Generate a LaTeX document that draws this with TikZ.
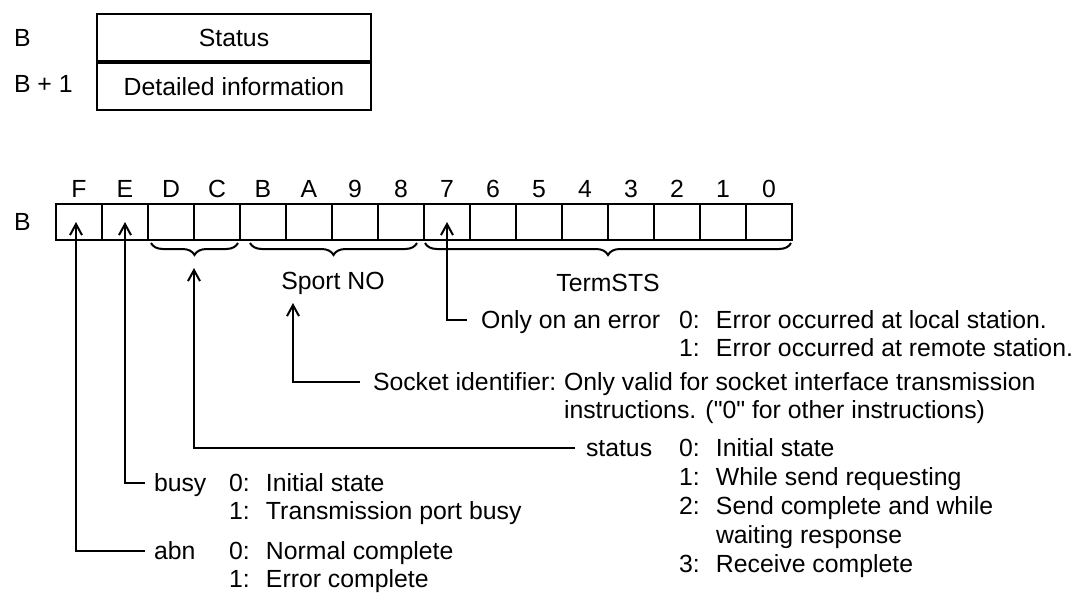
\documentclass[tikz,border=0pt]{standalone}
\usepackage{fontspec}
\setmainfont{Liberation Sans}[Ligatures=TeXOff]
\usetikzlibrary{arrows.meta,decorations.pathreplacing,positioning}
\newcommand{\itm}[2]{\makebox[18.5pt][l]{#1}#2}
\tikzset{
  txt/.style={inner sep=0pt,anchor=west,text height=8.9pt,text depth=0pt},
  cell/.style={draw,minimum width=23pt,minimum height=18pt,inner sep=0pt},
  rowbox/.style={draw,minimum width=137pt,minimum height=23.5pt,inner sep=0pt},
  arr/.style={-{Straight Barb[length=5.5pt,width=6pt]}},
  brc/.style={decorate,decoration={brace,mirror,amplitude=6pt}}
}
\begin{document}
\begin{tikzpicture}[x=0.5pt,y=-0.5pt,line width=1pt,font=\fontsize{12.4}{14.5}\selectfont]
\useasboundingbox (0,0) rectangle (1079,601);

\node[rowbox] (st) at (234,37.5) {Status};
\node[rowbox,below=0pt of st] (det) {Detailed information};
\node[txt] (lb) at (13,38) {B};
\node[txt] (lb1) at (13,84) {B + 1};

\foreach \b [count=\k from 0] in {F,E,D,C,B,A,9,8,7,6,5,4,3,2,1,0} {
  \node[cell] (c\b) at (79+46*\k,222) {};
  \node[txt,anchor=center] (n\b) at (79+46*\k,189) {\b};
}
\node[txt] (lreg) at (13,222) {B};

\draw[brc] (151,243) -- (238,243);
\draw[brc] (250,243) -- (417,243);
\draw[brc] (425,243) -- (791,243);
\node[txt,anchor=center] (sport) at (333,281) {Sport NO};
\node[txt,anchor=center] (term) at (608,283) {TermSTS};

\node[txt] (err) at (480,320) {Only on an error};
\node[txt] (err0) at (678,320) {\itm{0:}{Error occurred at local station.}};
\node[txt] (err1) at (678,348) {\itm{1:}{Error occurred at remote station.}};
\draw[arr] ([xshift=-6.5pt]err.west) -| (c7.center);

\node[txt] (sock) at (372,382) {Socket identifier:};
\node[txt] (sock0) at (563,382) {Only valid for socket interface transmission};
\node[txt] (sock1) at (563,410) {instructions. ("0" for other instructions)};
\coordinate (tipno) at (293,303);
\draw[arr] ([xshift=-6pt]sock.west) -| (tipno);

\node[txt] (stat) at (585,448) {status};
\node[txt] (stat0) at (678,448) {\itm{0:}{Initial state}};
\node[txt] (stat1) at (678,477) {\itm{1:}{While send requesting}};
\node[txt] (stat2) at (678,506) {\itm{2:}{Send complete and while}};
\node[txt] (stat2b) at (715,535) {waiting response};
\node[txt] (stat3) at (678,564) {\itm{3:}{Receive complete}};
\coordinate (tipdc) at (194,268);
\draw[arr] ([xshift=-5pt]stat.west) -| (tipdc);

\node[txt] (busy) at (153,483) {busy};
\node[txt] (busy0) at (228,483) {\itm{0:}{Initial state}};
\node[txt] (busy1) at (228,511) {\itm{1:}{Transmission port busy}};
\draw[arr] ([xshift=-4pt]busy.west) -| (cE.center);

\node[txt] (abn) at (153,551) {abn};
\node[txt] (abn0) at (228,551) {\itm{0:}{Normal complete}};
\node[txt] (abn1) at (228,579) {\itm{1:}{Error complete}};
\draw[arr] ([xshift=-4pt]abn.west) -| ([xshift=-1.5pt]cF.center);
\end{tikzpicture}
\end{document}
